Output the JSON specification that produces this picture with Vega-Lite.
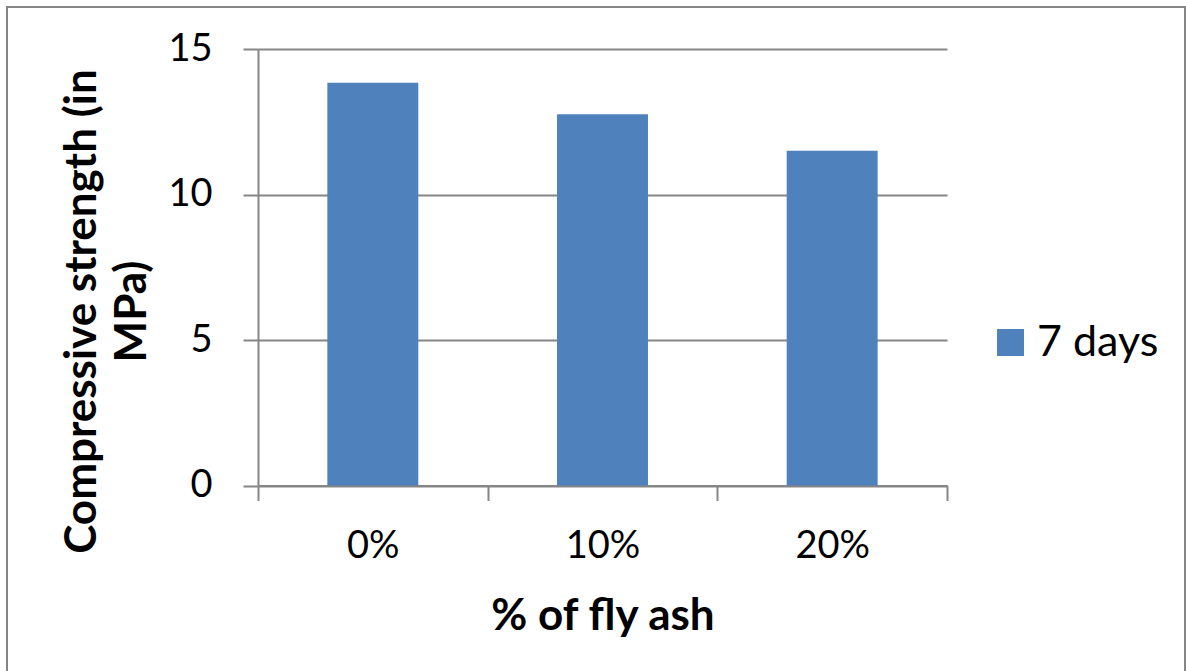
{
  "$schema": "https://vega.github.io/schema/vega-lite/v6.json",
  "width": 1178,
  "height": 665,
  "autosize": {"type": "none"},
  "padding": {"left": 7, "top": 7, "right": 1, "bottom": 0},
  "background": "white",
  "config": {
    "font": "Lato",
    "view": {"stroke": "#868686", "strokeWidth": 2},
    "axis": {
      "domainColor": "#868686",
      "domainWidth": 2,
      "tickColor": "#868686",
      "tickWidth": 2,
      "tickSize": 15,
      "gridColor": "#868686",
      "gridWidth": 2,
      "labelColor": "#000000",
      "labelFont": "Lato",
      "labelFontSize": 38,
      "titleColor": "#000000",
      "titleFont": "Lato",
      "titleFontWeight": "bold",
      "titleFontSize": 44
    }
  },
  "data": {
    "values": [
      {"fly_ash": "0%", "strength": 13.84, "series": "7 days"},
      {"fly_ash": "10%", "strength": 12.76, "series": "7 days"},
      {"fly_ash": "20%", "strength": 11.5, "series": "7 days"}
    ]
  },
  "mark": {"type": "bar", "width": {"band": 0.396}},
  "encoding": {
    "x": {
      "field": "fly_ash",
      "type": "nominal",
      "sort": null,
      "scale": {"range": [251, 940], "paddingInner": 0, "paddingOuter": 0},
      "axis": {
        "title": "% of fly ash",
        "offset": -186.5,
        "labelAngle": 0,
        "labelPadding": 27,
        "tickBand": "extent",
        "grid": false,
        "titleBaseline": "alphabetic",
        "titleY": 143.5,
        "titlePadding": 0
      }
    },
    "y": {
      "field": "strength",
      "type": "quantitative",
      "scale": {"domain": [0, 15], "range": [478.5, 42], "nice": false, "zero": true},
      "axis": {
        "title": ["Compressive strength (in", "MPa)"],
        "offset": -251,
        "values": [0, 5, 10, 15],
        "grid": true,
        "labelPadding": 31,
        "titleAngle": -90,
        "titleAlign": "center",
        "titleBaseline": "alphabetic",
        "titleX": -163,
        "titleY": 304,
        "titleLineHeight": 50
      }
    },
    "color": {
      "field": "series",
      "type": "nominal",
      "scale": {"range": ["#4F81BD"]},
      "legend": {
        "title": null,
        "orient": "none",
        "legendX": 982,
        "legendY": 314,
        "padding": 0,
        "symbolType": "square",
        "symbolSize": 729,
        "symbolStrokeWidth": 0,
        "symbolOpacity": 1,
        "labelFont": "Lato",
        "labelFontSize": 43,
        "labelColor": "#000000",
        "labelOffset": 5
      }
    }
  }
}
